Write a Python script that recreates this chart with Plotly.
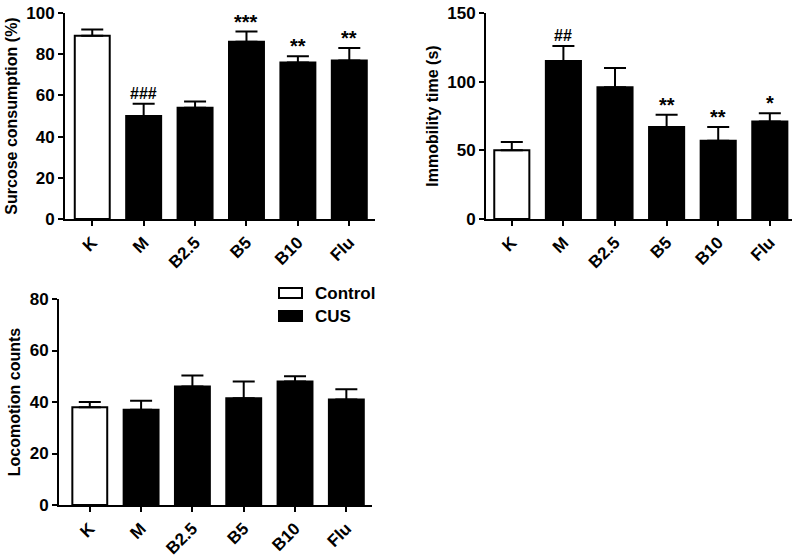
import plotly.graph_objects as go

groups = ["K", "M", "B2.5", "B5", "B10", "Flu"]

sucrose = [89, 50, 54, 86, 76, 77]
sucrose_err = [3, 6, 3, 5, 3, 6]
sucrose_sig = ["", "###", "", "***", "**", "**"]

immob = [50, 115, 96, 67, 57, 71]
immob_err = [6, 11, 14, 9, 10, 6]
immob_sig = ["", "##", "", "**", "**", "*"]

loco = [38, 37, 46, 41.5, 48, 41]
loco_err = [2, 3.5, 4.3, 6.5, 2, 4]

legend_names = ["Control", "CUS"]

FONT = "Arial, Liberation Sans, sans-serif"
W, H = 800, 559

def px(x):
  return x / W

def py(y):
  return 1 - y / H

fig = go.Figure()

panels = [
  # data, err, sig, xaxis, yaxis, x px range, y px range, yrange, dtick, title, xrange
  (sucrose, sucrose_err, sucrose_sig, "x", "y", (65, 375), (13, 219), [0, 100], 20, "Surcose consumption (%)", [-0.53, 5.5]),
  (immob, immob_err, immob_sig, "x2", "y2", (486, 792), (13, 219), [0, 150], 50, "Immobility time (s)", [-0.5, 5.43]),
  (loco, loco_err, None, "x3", "y3", (59, 372), (299, 505), [0, 80], 20, "Locomotion counts", [-0.6, 5.5]),
]

def add_bars(vals, errs, xa, ya):
  # control group (white) and CUS groups (black)
  fig.add_trace(go.Bar(
    x=groups[:1], y=vals[:1], name=legend_names[0], showlegend=False,
    marker=dict(color="white", line=dict(color="black", width=2)),
    width=0.68,
    error_y=dict(type="data", array=errs[:1], arrayminus=[0], symmetric=False,
                 color="black", thickness=2, width=11),
    xaxis=xa, yaxis=ya))
  fig.add_trace(go.Bar(
    x=groups[1:], y=vals[1:], name=legend_names[1], showlegend=False,
    marker=dict(color="black", line=dict(color="black", width=2)),
    width=0.68,
    error_y=dict(type="data", array=errs[1:], arrayminus=[0] * 5, symmetric=False,
                 color="black", thickness=2, width=11),
    xaxis=xa, yaxis=ya))

layout_axes = {}
for i, (vals, errs, sig, xa, ya, xpx, ypx, yr, dt, title, xr) in enumerate(panels):
  add_bars(vals, errs, xa, ya)
  xname = "xaxis" if xa == "x" else "xaxis" + xa[1:]
  yname = "yaxis" if ya == "y" else "yaxis" + ya[1:]
  layout_axes[xname] = dict(
    domain=[px(xpx[0]), px(xpx[1])], anchor=ya, range=xr, automargin=False,
    showline=True, linecolor="black", linewidth=2,
    ticks="outside", ticklen=5, tickwidth=2, tickcolor="black",
    tickangle=-45, showgrid=False, zeroline=False, ticklabeloverflow="allow",
    tickfont=dict(family=FONT, size=17, color="black", weight="bold"),
  )
  layout_axes[yname] = dict(
    domain=[py(ypx[1]), py(ypx[0])], anchor=xa, range=yr, dtick=dt,
    automargin=False, ticklabeloverflow="allow",
    showline=True, linecolor="black", linewidth=2,
    ticks="outside", ticklen=5, tickwidth=2, tickcolor="black",
    showgrid=False, zeroline=False,
    tickfont=dict(family=FONT, size=17, color="black", weight="bold"),
    title=dict(text=title, standoff=5,
               font=dict(family=FONT, size=16, color="black", weight="bold")),
  )
  if sig:
    for g, v, e, s in zip(groups, vals, errs, sig):
      if s:
        star = s.startswith("*")
        fig.add_annotation(x=g, y=v + e, xref=xa, yref=ya, text=s,
                           showarrow=False, yanchor="bottom",
                           yshift=-3 if star else 0,
                           font=dict(family=FONT, size=20 if star else 16,
                                     color="black", weight="bold"))

# legend drawn by hand (wide flat swatches as in the original figure)
legend_rows = [(legend_names[0], "white", 293), (legend_names[1], "black", 316)]
for name, fill, cy in legend_rows:
  fig.add_shape(type="rect", xref="paper", yref="paper",
                x0=px(279), x1=px(302), y0=py(cy + 5), y1=py(cy - 5),
                fillcolor=fill, line=dict(color="black", width=2))
  fig.add_annotation(x=px(313), y=py(cy), xref="paper", yref="paper",
                     text=name, showarrow=False, xanchor="left", yanchor="middle",
                     font=dict(family=FONT, size=17, color="black", weight="bold"))

fig.update_layout(
  width=W, height=H,
  margin=dict(l=0, r=0, t=0, b=0),
  paper_bgcolor="white", plot_bgcolor="white",
  barmode="overlay",
  showlegend=False,
  **layout_axes,
)

# drop the default 8px page margin so the figure fills the window exactly
fig.write_html("out.html", config={"displayModeBar": False},
               post_script="document.body.style.margin='0';")
